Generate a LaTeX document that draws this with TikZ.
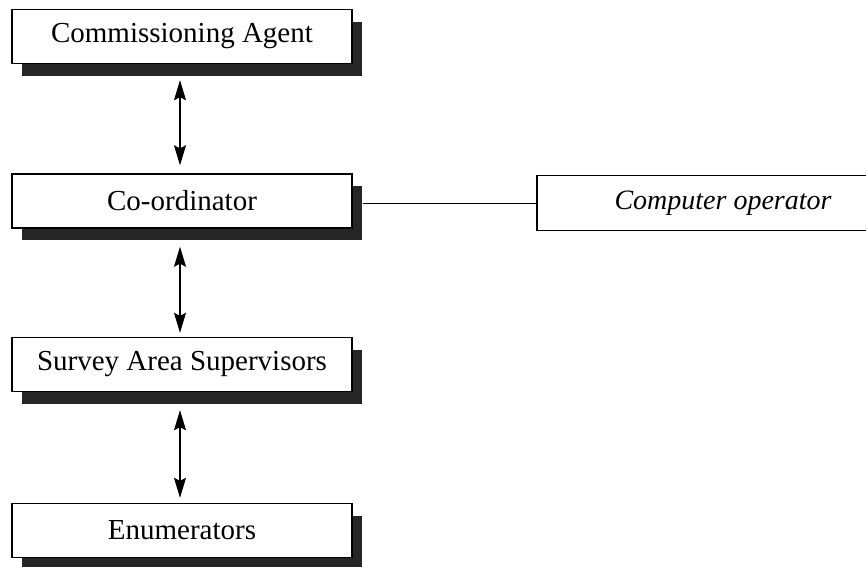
\documentclass[tikz,border=0pt]{standalone}
\usepackage{fontspec}
\setmainfont{Liberation Serif}
\usetikzlibrary{positioning, arrows.meta, shadows}
\tikzset{
  role/.style={rectangle, draw=black, fill=white, line width=1.4pt,
    minimum width=340pt, minimum height=54pt, inner sep=0pt,
    text centered, font=\fontsize{29}{34}\selectfont,
    drop shadow={shadow xshift=10pt, shadow yshift=-12pt,
      fill=black!85, opacity=1}},
  helper/.style={rectangle, draw=black, fill=white, line width=1.4pt,
    minimum width=372pt, minimum height=55pt, inner sep=0pt,
    text centered, font=\fontsize{28}{34}\selectfont\itshape},
  arrow/.style={line width=1.3pt,
    {Stealth[length=20pt, width=12pt, inset=3pt]}-{Stealth[length=20pt, width=12pt, inset=3pt]}},
  link/.style={line width=1pt},
}

\begin{document}
\begin{tikzpicture}[x=1pt, y=-1pt]
  \useasboundingbox (0,0) rectangle (866,566);

  % Chain of roles
  \node[role] (agent)      at (182,36.5)  {Commissioning Agent};
  \node[role] (coord)      at (182,201)   {Co-ordinator};
  \node[role] (supervisor) at (182,364.5) {Survey Area Supervisors};
  \node[role] (enum)       at (182,530.5) {Enumerators};

  % Side role
  \node[helper] (operator) at (723,203) {Computer operator};

  % Connectors
  \draw[arrow, shorten <=16pt, shorten >=8pt] ([xshift=-2pt]agent.south) -- ([xshift=-2pt]coord.north);
  \draw[arrow, shorten <=18pt, shorten >=4pt] ([xshift=-2pt]coord.south) -- ([xshift=-2pt]supervisor.north);
  \draw[arrow, shorten <=18pt, shorten >=5pt] ([xshift=-2pt]supervisor.south) -- ([xshift=-2pt]enum.north);
  \draw[link] ([xshift=10pt]coord.east |- operator.west) -- (operator.west);

\end{tikzpicture}
\end{document}
